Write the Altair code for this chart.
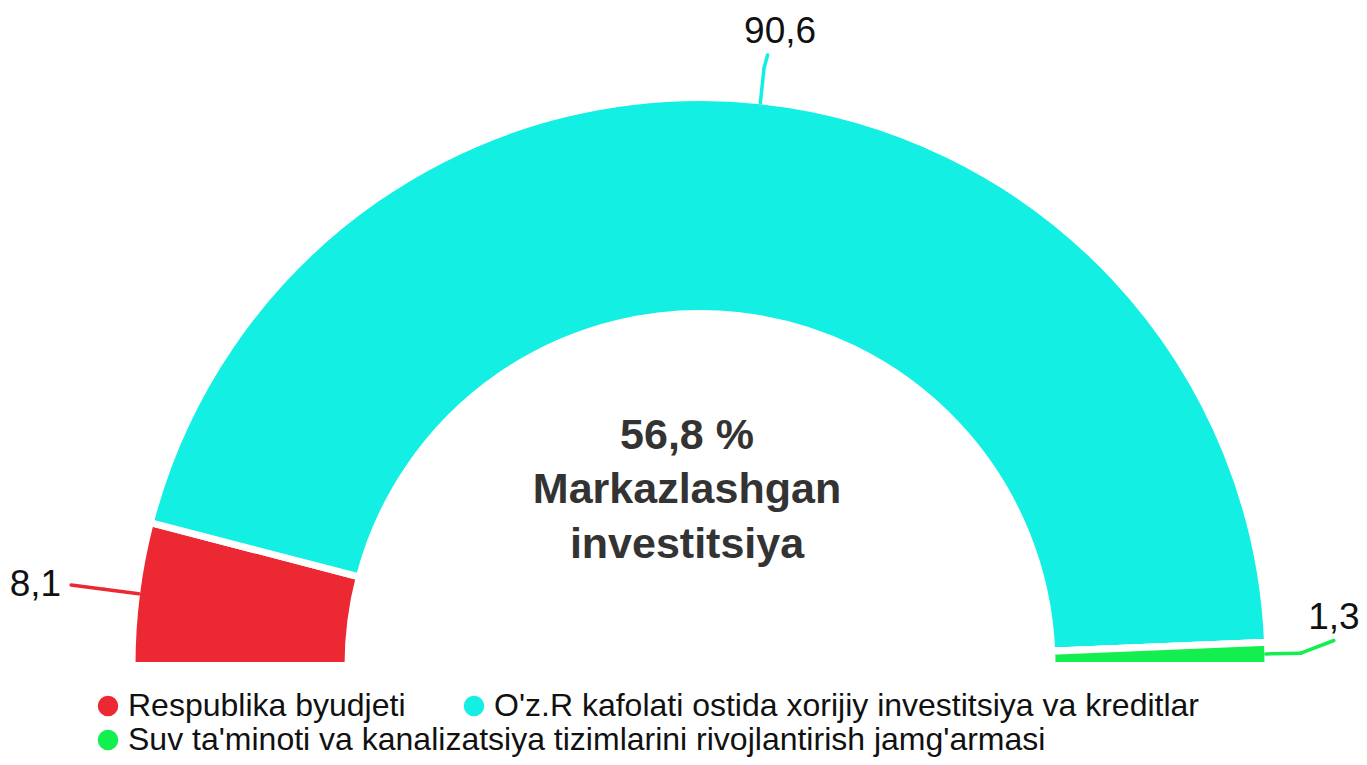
import altair as alt
import pandas as pd

# ---- data ----
categories = [
    "Respublika byudjeti",
    "O'z.R kafolati ostida xorijiy investitsiya va kreditlar",
    "Suv ta'minoti va kanalizatsiya tizimlarini rivojlantirish jamg'armasi",
]
values = [8.1, 90.6, 1.3]
value_labels = ["8,1", "90,6", "1,3"]
colors = ["#EC2833", "#13F0E3", "#13EF4F"]
center_lines = ["56,8 %", "Markazlashgan", "investitsiya"]

# ---- layout ----
W, H = 1351, 749
CX, CY = 692, 657.5
R_OUT, R_IN = 568, 352
FONT = "Liberation Sans"

df = pd.DataFrame({"category": categories, "value": values,
                   "label": value_labels, "order": list(range(len(values)))})

color_scale = alt.Scale(domain=categories, range=colors)

base = (
    alt.Chart(df)
    .transform_window(cum="sum(value)", sort=[alt.SortField("order")], frame=[None, 0])
    .transform_joinaggregate(total="sum(value)")
    .transform_calculate(t0="-PI/2 + PI*(datum.cum - datum.value)/datum.total")
    .transform_calculate(t1="-PI/2 + PI*datum.cum/datum.total")
    .transform_calculate(tm="(datum.t0 + datum.t1)/2")
    .transform_calculate(p0x=f"{CX} + {R_OUT - 2}*sin(datum.tm)")
    .transform_calculate(p0y=f"{CY} - {R_OUT - 2}*cos(datum.tm)")
    .transform_calculate(p1x=f"{CX} + {R_OUT + 33}*sin(datum.tm)")
    .transform_calculate(p1y=f"{CY} - {R_OUT + 33}*cos(datum.tm)")
    .transform_calculate(p2x=f"{CX} + {R_OUT + 66}*sin(datum.tm)")
    .transform_calculate(p2y=f"clamp({CY} - {R_OUT + 66}*cos(datum.tm), 47, {CY - 25})")
    .transform_calculate(left="sin(datum.tm) < -0.5")
    .transform_calculate(lx="datum.left ? datum.p2x - 10 : datum.p2x + 14*(1 - abs(sin(datum.tm)))")
    .transform_calculate(ly="datum.left ? datum.p2y + 11 : datum.p2y - 12")
)

legend_common = dict(
    title=None, orient="none", direction="horizontal",
    symbolType="circle", symbolSize=420, symbolStrokeWidth=0, symbolOpacity=1,
    labelFont=FONT, labelFontSize=32, labelColor="#111111", labelLimit=0,
    labelOffset=4, columnPadding=52,
)

arc_kw = dict(radius=R_OUT, radius2=R_IN, stroke="white", strokeWidth=7)
arc_enc = dict(
    theta=alt.Theta("t0:Q", scale=None, stack=None),
    theta2="t1:Q",
    x=alt.value(CX),
    y=alt.value(CY),
    tooltip=["category:N", "value:Q"],
)

# all slices; legend row 1 lists the first two series
arcs = base.mark_arc(**arc_kw).encode(
    color=alt.Color("category:N", scale=color_scale,
                    legend=alt.Legend(values=categories[:2], legendX=84, legendY=682,
                                      **legend_common)),
    **arc_enc,
)
# the last slice once more (same look); its legend gives row 2
arcs_last = base.transform_filter(alt.datum.order == len(values) - 1).mark_arc(**arc_kw).encode(
    color=alt.Color("category:N", scale=color_scale,
                    legend=alt.Legend(values=categories[2:], legendX=84, legendY=716,
                                      **legend_common)),
    **arc_enc,
)

seg1 = base.mark_rule(strokeWidth=3.5, strokeCap="round").encode(
    x=alt.X("p0x:Q", scale=None), y=alt.Y("p0y:Q", scale=None),
    x2="p1x:Q", y2="p1y:Q",
    color=alt.Color("category:N", scale=color_scale, legend=None),
)
seg2 = base.mark_rule(strokeWidth=3.5, strokeCap="round").encode(
    x=alt.X("p1x:Q", scale=None), y=alt.Y("p1y:Q", scale=None),
    x2="p2x:Q", y2="p2y:Q",
    color=alt.Color("category:N", scale=color_scale, legend=None),
)

labels_left = base.transform_filter("datum.left").mark_text(
    font=FONT, fontSize=37, color="#111111", align="right", baseline="alphabetic"
).encode(x=alt.X("lx:Q", scale=None), y=alt.Y("ly:Q", scale=None), text="label:N")

labels_other = base.transform_filter("!datum.left").mark_text(
    font=FONT, fontSize=37, color="#111111", align="center", baseline="alphabetic"
).encode(x=alt.X("lx:Q", scale=None), y=alt.Y("ly:Q", scale=None), text="label:N")

center_df = pd.DataFrame({"line": center_lines, "i": list(range(len(center_lines)))})
center = (
    alt.Chart(center_df)
    .transform_calculate(cy=f"{CY - 217} + datum.i*54.5")
    .mark_text(font=FONT, fontSize=43, fontWeight="bold", color="#333333",
               align="center", baseline="alphabetic")
    .encode(x=alt.value(CX - 13), y=alt.Y("cy:Q", scale=None), text="line:N")
)

chart = (
    alt.layer(arcs, arcs_last, seg1, seg2, labels_left, labels_other, center)
    .resolve_legend(color="independent")
    .properties(width=W, height=H, padding=0, autosize=alt.AutoSizeParams(type="none"))
    .configure_view(stroke=None)
)

chart.save("out.html", embed_options={"renderer": "svg", "actions": False})
